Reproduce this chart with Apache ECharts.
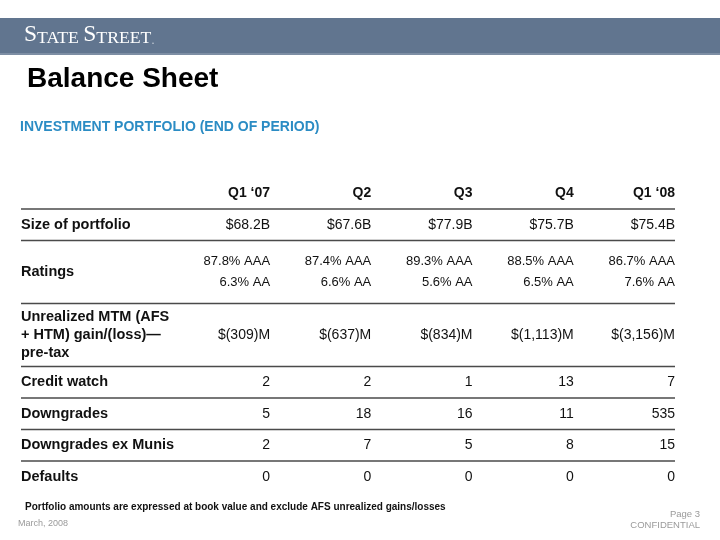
<!DOCTYPE html>
<html>
<head>
<meta charset="utf-8">
<title>Balance Sheet</title>
<script src="https://cdn.jsdelivr.net/npm/echarts@6/dist/echarts.min.js"></script>
<style>
  html, body { margin: 0; padding: 0; background: #fff; }
  #main { width: 720px; height: 540px; }
</style>
</head>
<body>
<div id="main"></div>
<script>
// table data
const periods = ['Q1 \u201807', 'Q2', 'Q3', 'Q4', 'Q1 \u201808']
const rowLabels = [
  'Size of portfolio',
  'Ratings',
  'Unrealized MTM (AFS\n+ HTM) gain/(loss)\u2014\npre-tax',
  'Credit watch',
  'Downgrades',
  'Downgrades ex Munis',
  'Defaults'
]
const portfolioSize = [68.2, 67.6, 77.9, 75.7, 75.4] // $B
const ratingsAAA = [87.8, 87.4, 89.3, 88.5, 86.7] // %
const ratingsAA = [6.3, 6.6, 5.6, 6.5, 7.6] // %
const unrealizedMTM = [-309, -637, -834, -1113, -3156] // $M
const creditWatch = [2, 2, 1, 13, 7]
const downgrades = [5, 18, 16, 11, 535]
const downgradesExMunis = [2, 7, 5, 8, 15]
const defaults = [0, 0, 0, 0, 0]

const FONT = '"Liberation Sans", Arial, sans-serif'
const X_MIN = -2.46
const X_MAX = 4

function money(v, unit) {
  if (v < 0) return '$(' + Math.abs(v).toLocaleString('en-US') + ')' + unit
  return '$' + v.toFixed(1) + unit
}

const rows = [
  { label: '', values: periods, head: true },
  { label: rowLabels[0], values: portfolioSize.map(v => money(v, 'B')) },
  { label: rowLabels[1], values: ratingsAAA.map((v, i) => v.toFixed(1) + '% AAA\n' + ratingsAA[i].toFixed(1) + '% AA'), small: true },
  { label: rowLabels[2], values: unrealizedMTM.map(v => money(v, 'M')) },
  { label: rowLabels[3], values: creditWatch.map(String) },
  { label: rowLabels[4], values: downgrades.map(String) },
  { label: rowLabels[5], values: downgradesExMunis.map(String) },
  { label: rowLabels[6], values: defaults.map(String) }
]

// rows with multi-line content take two units of height
const cells = []
const rules = []
let u = 0
rows.forEach((row, r) => {
  const lines = Math.max(row.label.split('\n').length, ...row.values.map(s => s.split('\n').length))
  const span = lines > 1 ? 2 : 1
  const mid = u + span / 2
  if (row.label) {
    cells.push({ x: X_MIN, y: mid, text: row.label, align: 'left', bold: true, size: 14.5, lh: 18 })
  }
  row.values.forEach((t, i) => {
    cells.push({ x: i, y: mid, text: t, align: 'right', bold: !!row.head, size: row.small ? 13 : 14, lh: 21 })
  })
  u += span
  if (r < rows.length - 1) rules.push(u)
})
const totalUnits = u

const chart = echarts.init(document.getElementById('main'))

chart.setOption({
  animation: false,
  grid: { left: 21, right: 45, top: 177.5, bottom: 47.5 },
  xAxis: { type: 'value', min: X_MIN, max: X_MAX, show: false },
  yAxis: { type: 'value', min: 0, max: totalUnits, inverse: true, show: false },
  graphic: [
    { type: 'rect', shape: { x: 0, y: 18, width: 720, height: 37 }, style: { fill: '#61758f' } },
    { type: 'rect', shape: { x: 0, y: 53, width: 720, height: 2 }, style: { fill: '#7d8ea4' } },
    {
      type: 'text', x: 24, y: 47,
      style: {
        text: '{a|S}{b|TATE }{a|S}{b|TREET}{c|.}',
        verticalAlign: 'bottom',
        rich: {
          a: { fontFamily: '"Liberation Serif", serif', fontSize: 23.5, fill: '#fff', verticalAlign: 'bottom', lineHeight: 23 },
          b: { fontFamily: '"Liberation Serif", serif', fontSize: 17.7, fill: '#fff', verticalAlign: 'bottom', lineHeight: 18 },
          c: { fontFamily: '"Liberation Serif", serif', fontSize: 12, fill: '#c9d0da', verticalAlign: 'bottom', lineHeight: 13 }
        }
      }
    },
    { type: 'text', x: 27, y: 79, style: { text: 'Balance Sheet', font: 'bold 28px ' + FONT, fill: '#000', verticalAlign: 'middle' } },
    { type: 'text', x: 20, y: 127, style: { text: 'INVESTMENT PORTFOLIO (END OF PERIOD)', font: 'bold 14px ' + FONT, fill: '#2b8cc4', verticalAlign: 'middle' } },
    { type: 'text', x: 25, y: 507, style: { text: 'Portfolio amounts are expressed at book value and exclude AFS unrealized gains/losses', font: 'bold 10px ' + FONT, fill: '#111', verticalAlign: 'middle' } },
    { type: 'text', x: 18, y: 524, style: { text: 'March, 2008', font: '9px ' + FONT, fill: '#9a9a9a', verticalAlign: 'middle' } },
    { type: 'text', x: 700, y: 514, style: { text: 'Page 3', font: '9.5px ' + FONT, fill: '#9a9a9a', align: 'right', verticalAlign: 'middle' } },
    { type: 'text', x: 700, y: 525, style: { text: 'CONFIDENTIAL', font: '9.5px ' + FONT, fill: '#9a9a9a', align: 'right', verticalAlign: 'middle' } }
  ],
  series: [
    {
      type: 'custom',
      silent: true,
      data: rules.map(v => [v]),
      renderItem: (params, api) => {
        const a = api.coord([X_MIN, api.value(0)])
        const b = api.coord([X_MAX, api.value(0)])
        return {
          type: 'line',
          shape: { x1: a[0], y1: a[1], x2: b[0], y2: b[1] },
          style: { stroke: '#4a4a4a', lineWidth: 1.5 }
        }
      }
    },
    {
      type: 'custom',
      silent: true,
      data: cells.map(c => [c.x, c.y]),
      renderItem: (params, api) => {
        const c = cells[params.dataIndex]
        const p = api.coord([api.value(0), api.value(1)])
        return {
          type: 'text',
          x: p[0],
          y: p[1],
          style: {
            text: c.text,
            font: (c.bold ? 'bold ' : '') + c.size + 'px ' + FONT,
            fill: '#111',
            align: c.align,
            verticalAlign: 'middle',
            lineHeight: c.lh
          }
        }
      }
    }
  ]
})
</script>
</body>
</html>
